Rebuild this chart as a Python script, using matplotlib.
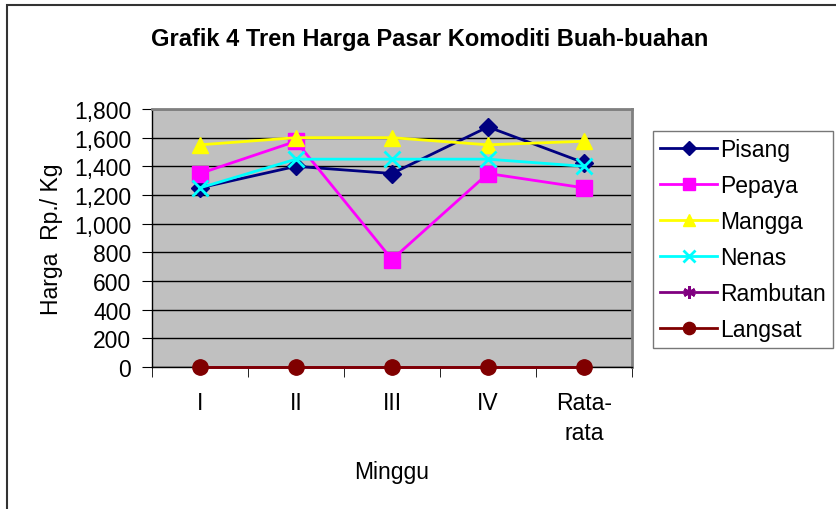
import matplotlib.pyplot as plt
from matplotlib.patches import Rectangle
from matplotlib.ticker import FuncFormatter

minggu = ['I', 'II', 'III', 'IV', 'Rata-\nrata']
pisang = [1250, 1400, 1350, 1675, 1425]
pepaya = [1350, 1575, 750, 1350, 1250]
mangga = [1550, 1600, 1600, 1550, 1575]
nenas = [1250, 1450, 1450, 1450, 1400]
rambutan = [0, 0, 0, 0, 0]
langsat = [0, 0, 0, 0, 0]

plt.rcParams['font.family'] = ['Liberation Sans', 'DejaVu Sans']

W, H = 837, 510
fig = plt.figure(figsize=(W / 100, H / 100), dpi=100)

def fx(px):
    return px / W

def fy(py):
    return 1 - py / H

# outer chart border
fig.patches.append(Rectangle((fx(7), fy(530)), fx(850) - fx(7), fy(6) - fy(530),
                             transform=fig.transFigure, fill=False, ec='#333333', lw=1.5))

ax = fig.add_axes([fx(152), fy(368), fx(632) - fx(152), fy(110) - fy(368)])
ax.set_facecolor('#C0C0C0')

x = list(range(len(minggu)))
series = [
    ('Pisang', pisang, '#000080', 'D', 9),
    ('Pepaya', pepaya, '#FF00FF', 's', 11),
    ('Mangga', mangga, '#FFFF00', '^', 11),
    ('Nenas', nenas, '#00FFFF', 'x', 11),
    ('Rambutan', rambutan, '#800080', (6, 2, 0), 11),
    ('Langsat', langsat, '#800000', 'o', 11),
]
for name, vals, col, mk, ms in series:
    ax.plot(x, vals, color=col, marker=mk, markersize=ms, lw=2, label=name,
            markeredgewidth=2 if mk in ('x', (6, 2, 0)) else 1, clip_on=False, zorder=3)

ax.set_xlim(-0.5, len(minggu) - 0.5)
ax.set_ylim(0, 1800)
ax.set_yticks(range(0, 1801, 200))
ax.yaxis.set_major_formatter(FuncFormatter(lambda v, p: f'{int(v):,}'))
ax.grid(axis='y', color='black', lw=1)
ax.set_axisbelow(True)

ax.set_xticks(x)
ax.set_xticklabels(minggu, fontsize=16.5, linespacing=1.4)
ax.set_xticks([i + 0.5 for i in range(-1, len(minggu))], minor=True)
ax.tick_params(axis='x', which='major', length=0, pad=17)
ax.tick_params(axis='x', which='minor', length=7, direction='out', color='black')
ax.tick_params(axis='y', length=7, direction='out', labelsize=16.5, pad=8)

for s in ['top', 'right']:
    ax.spines[s].set_color('#808080')
    ax.spines[s].set_linewidth(2)
for s in ['left', 'bottom']:
    ax.spines[s].set_color('black')
    ax.spines[s].set_linewidth(1)

ax.set_ylabel('Harga  Rp./ Kg', fontsize=16.5, labelpad=8)
ax.set_xlabel('Minggu', fontsize=16.5, labelpad=12)

fig.text(fx(430), fy(40), 'Grafik 4 Tren Harga Pasar Komoditi Buah-buahan',
         ha='center', va='center', fontsize=17, fontweight='bold')

leg = fig.legend(loc='upper left', bbox_to_anchor=(fx(653), fy(132)), fontsize=16.5,
                 frameon=True, fancybox=False, edgecolor='#555555', borderpad=0.3,
                 labelspacing=0.57, handlelength=2.5, handletextpad=0.15, borderaxespad=0,
                 markerscale=0.8)
leg.get_frame().set_linewidth(1)

fig.savefig('out.png', dpi=100)
